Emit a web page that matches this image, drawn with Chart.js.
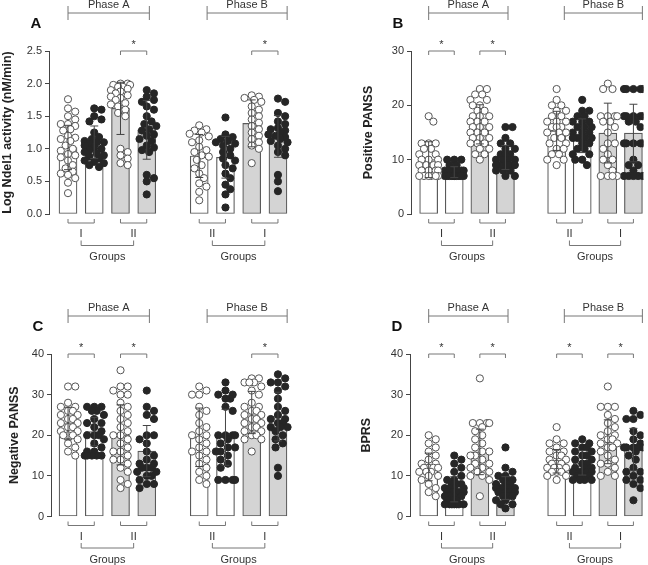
<!DOCTYPE html>
<html>
<head>
<meta charset="utf-8">
<script src="https://cdn.jsdelivr.net/npm/chart.js@4.4.1/dist/chart.umd.min.js"></script>
<style>
  html, body { margin: 0; padding: 0; background: #fff; }
  #wrap { position: relative; width: 648px; height: 565px; overflow: hidden; }
  canvas { position: absolute; }
</style>
</head>
<body>
<div id="wrap">
  <canvas id="cA" width="324" height="282" style="left:0;top:0"></canvas>
  <canvas id="cB" width="324" height="282" style="left:324px;top:0"></canvas>
  <canvas id="cC" width="324" height="283" style="left:0;top:282px"></canvas>
  <canvas id="cD" width="324" height="283" style="left:324px;top:282px"></canvas>
</div>
<script>
// ---- data ----
const phaseLabels = ['Phase A', 'Phase B'];
const pairLabels = ['I', 'II', 'II', 'I'];
const groupLabel = 'Groups';

// Panel A: Log Ndel1 activity
const ndel1Mean = [1.02, 1.10, 1.62, 1.29, 0.89, 0.87, 1.39, 1.19];
const ndel1Sd = [0.34, 0.25, 0.40, 0.45, 0.33, 0.32, 0.36, 0.32];
const ndel1Sig = [[2, 3], [6, 7]];
const ndel1Points = [
  [1.76,1.62,1.57,1.5,1.45,1.38,1.38,1.35,1.3,1.28,1.2,1.17,1.15,1.12,1.05,1.0,0.97,0.92,0.9,0.87,0.82,0.75,0.7,0.65,0.62,0.6,0.55,0.48,0.32],
  [1.62,1.6,1.5,1.45,1.42,1.25,1.18,1.15,1.12,1.1,1.1,1.08,1.05,1.02,1.0,0.98,0.95,0.93,0.9,0.88,0.85,0.82,0.8,0.78,0.75,0.72],
  [2.0,2.0,1.98,1.98,1.95,1.95,1.92,1.9,1.88,1.85,1.82,1.8,1.78,1.75,1.7,1.68,1.65,1.6,1.55,1.5,1.0,0.95,0.9,0.85,0.78,0.75],
  [1.9,1.85,1.8,1.75,1.72,1.65,1.6,1.5,1.42,1.38,1.35,1.3,1.28,1.22,1.2,1.15,1.12,1.05,1.02,0.98,0.95,0.6,0.55,0.5,0.3],
  [1.36,1.3,1.28,1.25,1.23,1.19,1.13,1.1,1.03,0.98,0.95,0.9,0.88,0.83,0.75,0.7,0.62,0.55,0.47,0.42,0.34,0.21],
  [1.48,1.22,1.18,1.15,1.12,1.1,1.08,1.05,1.0,0.95,0.9,0.85,0.82,0.75,0.7,0.62,0.55,0.45,0.38,0.3,0.1],
  [1.82,1.8,1.78,1.75,1.72,1.65,1.6,1.55,1.5,1.45,1.4,1.35,1.3,1.25,1.2,1.15,1.1,1.05,1.0,0.78],
  [1.77,1.72,1.55,1.5,1.42,1.38,1.32,1.3,1.28,1.25,1.22,1.2,1.18,1.15,1.12,1.1,1.05,1.0,0.95,0.9,0.6,0.5,0.35]
];

// Panel B: Positive PANSS
const posMean = [10.0, 7.7, 16.5, 10.4, 15.3, 14.4, 14.9, 14.9];
const posSd = [3.3, 1.0, 3.6, 2.2, 3.6, 3.1, 5.5, 5.3];
const posSig = [[0, 1], [2, 3]];
const posPoints = [
  [18,17,13,13,13,12,12,11,11,10,10,10,9,9,9,9,8,8,8,8,7,7,7,7,7,7],
  [10,10,10,9,9,8,8,8,8,8,8,7,7,7,7,7,7,7,7,7,7],
  [23,23,22,22,21,21,20,20,19,19,18,18,18,17,17,17,16,16,16,15,15,15,14,14,14,13,13,13,12,12,11,11,10],
  [16,16,14,13,13,12,12,11,11,11,10,10,10,10,9,9,9,9,9,9,8,8,8,7,7],
  [23,21,20,20,19,19,18,18,17,17,17,16,16,16,15,15,15,14,14,13,13,12,12,11,11,10,10,9],
  [21,19,19,18,18,17,17,17,16,16,16,15,15,15,14,14,14,14,13,13,12,12,11,11,10,10,9],
  [24,23,23,18,18,18,18,17,17,16,15,13,13,12,11,10,10,9,8,7,7,7,7],
  [23,23,23,23,23,18,18,18,18,18,17,17,16,13,13,13,13,13,10,9,9,8,7,7,7,7,7]
];

// Panel C: Negative PANSS
const negMean = [22.9, 20.9, 20.1, 16.1, 19.5, 19.5, 25.6, 24.6];
const negSd = [4.0, 3.5, 7.4, 6.3, 7.2, 6.9, 5.2, 6.0];
const negSig = [[0, 1], [2, 3], [6, 7]];
const negPoints = [
  [32,32,28,27,27,26,26,25,25,24,24,23,23,22,22,21,21,20,20,20,19,18,17,16,15],
  [27,27,27,26,26,25,24,23,23,22,21,20,20,20,19,18,17,16,16,15,15,15,15,15],
  [36,32,32,31,30,30,28,27,26,25,24,23,22,21,20,20,19,18,17,16,16,15,14,14,13,12,11,9,8,7],
  [31,27,26,25,24,20,20,19,18,16,15,14,13,13,12,12,12,11,11,10,10,9,8,8,7],
  [32,31,30,30,27,26,25,23,22,21,20,20,19,18,17,16,16,15,14,13,12,11,10,9,8],
  [33,31,30,30,29,29,27,26,20,20,20,20,19,18,17,17,16,16,15,14,13,12,9,9,9,9],
  [34,34,33,33,33,32,31,30,28,27,27,26,26,25,25,24,24,23,23,22,22,21,21,20,20,19,19,16],
  [35,34,33,33,32,31,29,27,26,25,24,24,23,23,22,22,22,21,20,19,18,17,12,10]
];

// Panel D: BPRS
const bprsMean = [12.2, 6.7, 15.9, 7.0, 13.6, 13.2, 18.4, 16.5];
const bprsSd = [3.4, 3.1, 5.6, 2.8, 2.9, 3.0, 5.4, 5.2];
const bprsSig = [[0, 1], [2, 3], [4, 5], [6, 7]];
const bprsPoints = [
  [20,19,18,17,16,15,14,13,13,12,12,12,12,11,11,11,10,10,9,8,7,6,5],
  [15,14,13,12,11,10,9,9,8,8,8,7,7,7,7,6,6,6,6,5,5,5,5,4,4,4,3,3,3,3,3,3,3],
  [34,23,23,23,23,22,21,20,19,18,17,16,16,15,15,14,13,13,12,12,11,11,10,10,9,5],
  [17,12,11,10,10,9,9,9,8,8,8,7,7,7,7,6,6,6,6,5,5,5,4,4,3,3,2],
  [22,19,18,18,17,16,16,15,15,14,14,13,13,13,12,12,12,12,11,11,11,10,10,9],
  [19,18,18,17,17,16,16,15,15,14,14,13,13,12,12,12,11,11,11,11,10,10,10,9,9,9,9],
  [32,27,27,27,25,24,23,22,21,20,20,19,19,18,18,17,17,16,15,14,13,13,12,11,10,10],
  [26,25,24,24,21,20,19,18,17,17,17,17,17,16,15,14,12,11,11,10,9,9,8,7,4]
];

// ---- layout ----
const slots = [1, 2, 3, 4, 6, 7, 8, 9];
const phaseSpans = [[1.0, 4.1], [6.3, 9.35]];
const pairSpans = [[1, 2], [3, 4], [6, 7], [8, 9]];
const groupSpans = [[1.5, 3.5], [6.5, 8.5]];
const barFill = ['#fff', '#fff', '#d4d4d4', '#d4d4d4', '#fff', '#fff', '#d4d4d4', '#d4d4d4'];
const FONT = '"Liberation Sans", Arial, Helvetica, sans-serif';
const INK = '#333';
const LINE = '#777';

// simple beeswarm: nudge points sideways so they don't pile up
function swarm(values, slot, yMax, plotH, pxPerX) {
  const placed = [];
  const cands = [0];
  for (let k = 1; k <= 4; k++) { cands.push(k * 2.4, -k * 2.4); }
  values.forEach(v => {
    const py = v / yMax * plotH;
    let best = 0, bestD = -1;
    for (const c of cands) {
      let d = Infinity;
      placed.forEach(p => { d = Math.min(d, Math.hypot(p.px - c, p.py - py)); });
      if (d >= 6.4) { best = c; bestD = d; break; }
      if (d > bestD) { bestD = d; best = c; }
    }
    placed.push({ px: best, py: py, v: v });
  });
  return placed.map(p => ({ x: slot + p.px / pxPerX, y: p.v }));
}

function line(ctx, pts) {
  ctx.beginPath();
  ctx.moveTo(pts[0][0], pts[0][1]);
  for (let i = 1; i < pts.length; i++) ctx.lineTo(pts[i][0], pts[i][1]);
  ctx.stroke();
}

function text(ctx, s, x, y, font, color) {
  ctx.font = font;
  ctx.fillStyle = color || INK;
  ctx.textAlign = 'center';
  ctx.textBaseline = 'middle';
  ctx.fillText(s, x, y);
}

function panel(id, p) {
  const el = document.getElementById(id);
  const W = el.width, H = el.height;
  const plotH = p.bottom - p.top;
  const pxPerX = (p.right - p.left) / (p.xMax - p.xMin);
  const open = [], filled = [];
  p.points.forEach((vals, i) => {
    const pts = swarm(vals, slots[i], p.yMax, plotH, pxPerX);
    (i % 2 === 0 ? open : filled).push(...pts);
  });

  const decor = {
    id: 'decor' + id,
    afterDatasetsDraw(chart) {
      const ctx = chart.ctx, xs = chart.scales.x, ys = chart.scales.y;
      ctx.save();
      ctx.strokeStyle = '#444';
      ctx.lineWidth = 1;
      p.mean.forEach((m, i) => {
        const x = xs.getPixelForValue(slots[i]);
        const y1 = ys.getPixelForValue(m - p.sd[i]);
        const y2 = ys.getPixelForValue(m + p.sd[i]);
        line(ctx, [[x, y1], [x, y2]]);
        line(ctx, [[x - 4, y1], [x + 4, y1]]);
        line(ctx, [[x - 4, y2], [x + 4, y2]]);
      });
      ctx.restore();
    },
    afterDraw(chart) {
      const ctx = chart.ctx, xs = chart.scales.x, a = chart.chartArea;
      const px = v => xs.getPixelForValue(v);
      ctx.save();
      ctx.strokeStyle = LINE;
      ctx.lineWidth = 1;
      // phase brackets
      phaseSpans.forEach((s, i) => {
        const y = a.top - 38;
        line(ctx, [[px(s[0]), y], [px(s[1]), y]]);
        line(ctx, [[px(s[0]), y - 7], [px(s[0]), y + 7]]);
        line(ctx, [[px(s[1]), y - 7], [px(s[1]), y + 7]]);
        text(ctx, phaseLabels[i], (px(s[0]) + px(s[1])) / 2, a.top - 46, '11px ' + FONT);
      });
      // significance brackets
      p.sig.forEach(s => {
        const x1 = px(slots[s[0]]), x2 = px(slots[s[1]]), y = a.top;
        line(ctx, [[x1, y + 4], [x1, y], [x2, y], [x2, y + 4]]);
        text(ctx, '*', (x1 + x2) / 2, y - 6, '11px ' + FONT);
      });
      // pairs and groups below the bars
      pairSpans.forEach((s, i) => {
        const y = a.bottom + 9;
        line(ctx, [[px(s[0]), y - 4], [px(s[0]), y], [px(s[1]), y], [px(s[1]), y - 4]]);
        text(ctx, pairLabels[i], (px(s[0]) + px(s[1])) / 2, a.bottom + 20, '11px ' + FONT);
      });
      groupSpans.forEach(s => {
        const y = a.bottom + 31.5;
        line(ctx, [[px(s[0]), y - 5], [px(s[0]), y], [px(s[1]), y], [px(s[1]), y - 5]]);
        text(ctx, groupLabel, (px(s[0]) + px(s[1])) / 2, a.bottom + 43, '11px ' + FONT);
      });
      // panel letter and axis title
      text(ctx, p.letter, a.left - 13, a.top - 27, 'bold 15px ' + FONT, '#111');
      ctx.translate(p.titleX, (a.top + a.bottom) / 2);
      ctx.rotate(-Math.PI / 2);
      text(ctx, p.title, 0, 0, 'bold 12.5px ' + FONT, '#222');
      ctx.restore();
    }
  };

  new Chart(el, {
    type: 'bar',
    data: {
      datasets: [
        { type: 'scatter', data: open, order: 0, pointRadius: 3.6, pointHoverRadius: 3.6,
          pointBackgroundColor: '#fff', pointBorderColor: '#555', pointBorderWidth: 1 },
        { type: 'scatter', data: filled, order: 0, pointRadius: 3.6, pointHoverRadius: 3.6,
          pointBackgroundColor: '#262626', pointBorderColor: '#262626', pointBorderWidth: 1 },
        { type: 'bar', order: 1, data: p.mean.map((m, i) => ({ x: slots[i], y: m })),
          backgroundColor: barFill, borderColor: '#5a5a5a', borderWidth: 1.2,
          borderSkipped: false, barThickness: 18 }
      ]
    },
    options: {
      responsive: false,
      animation: false,
      devicePixelRatio: 1,
      layout: { padding: { top: p.top, bottom: H - p.bottom, left: 0, right: W - p.right } },
      plugins: { legend: { display: false }, tooltip: { enabled: false } },
      scales: {
        x: { type: 'linear', min: p.xMin, max: p.xMax, offset: false, display: false },
        y: {
          min: 0, max: p.yMax,
          ticks: { stepSize: p.step, color: INK, padding: 3, font: { family: FONT, size: 11 },
                   callback: v => p.decimals ? v.toFixed(1) : String(v) },
          grid: { drawOnChartArea: false, tickLength: 4, color: '#444' },
          border: { display: true, color: '#444', width: 1 },
          afterFit(s) { s.width = p.left; }
        }
      }
    },
    plugins: [decor]
  });
}

panel('cA', { letter: 'A', title: 'Log Ndel1 activity (nM/min)', titleX: 8,
  mean: ndel1Mean, sd: ndel1Sd, sig: ndel1Sig, points: ndel1Points,
  yMax: 2.5, step: 0.5, decimals: true,
  left: 49, right: 300, top: 51, bottom: 214, xMin: 0.276, xMax: 9.84 });

panel('cB', { letter: 'B', title: 'Positive PANSS', titleX: 45,
  mean: posMean, sd: posSd, sig: posSig, points: posPoints,
  yMax: 30, step: 10, decimals: false,
  left: 87, right: 324, top: 51, bottom: 214, xMin: 0.31, xMax: 9.39 });

panel('cC', { letter: 'C', title: 'Negative PANSS', titleX: 15,
  mean: negMean, sd: negSd, sig: negSig, points: negPoints,
  yMax: 40, step: 10, decimals: false,
  left: 51, right: 300, top: 72, bottom: 234.5, xMin: 0.35, xMax: 9.84 });

panel('cD', { letter: 'D', title: 'BPRS', titleX: 43,
  mean: bprsMean, sd: bprsSd, sig: bprsSig, points: bprsPoints,
  yMax: 40, step: 10, decimals: false,
  left: 86, right: 324, top: 72, bottom: 234.5, xMin: 0.27, xMax: 9.39 });
</script>
</body>
</html>
